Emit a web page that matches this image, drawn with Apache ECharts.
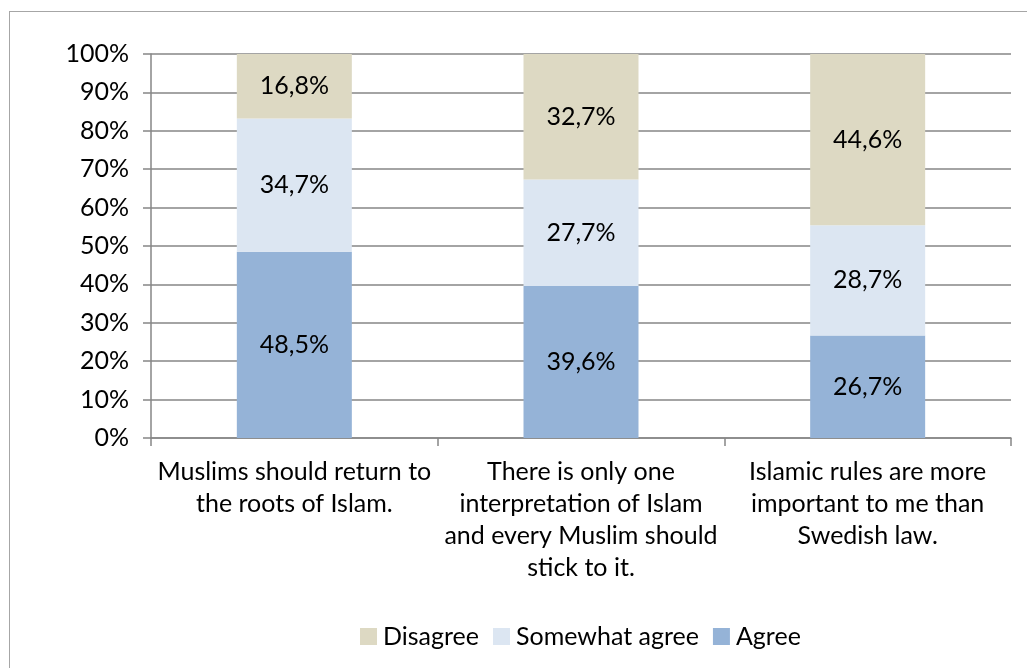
<!DOCTYPE html>
<html><head><meta charset="utf-8">
<script src="https://cdn.jsdelivr.net/npm/echarts@6/dist/echarts.min.js"></script>
<style>
html,body{margin:0;padding:0;background:#fff;overflow:hidden;}
#frame{position:absolute;left:9px;top:11px;width:1100px;height:800px;border:1.5px solid #a6a6a6;box-sizing:border-box;}
#c{position:absolute;left:0;top:0;width:1027px;height:668px;}
</style></head><body>
<div id="frame"></div>
<div id="c"></div>
<script>
const categories = ["Muslims should return to\nthe roots of Islam.", "There is only one\ninterpretation of Islam\nand every Muslim should\nstick to it.", "Islamic rules are more\nimportant to me than\nSwedish law."];
const agree = [48.5, 39.6, 26.7];
const somewhatAgree = [34.7, 27.7, 28.7];
const disagree = [16.8, 32.7, 44.6];
const yTicks = [0,10,20,30,40,50,60,70,80,90,100];

const font = 'Lato, "Open Sans", sans-serif';
const fs = 25;
const fmt = p => p.value.toFixed(1).replace('.', ',') + '%';
function ser(name, data, color){
  return {name, type:'bar', stack:'s', data, barWidth:115,
    itemStyle:{color},
    label:{show:true, position:'inside', formatter:fmt, color:'#000', fontSize:fs, fontFamily:font}};
}
const chart = echarts.init(document.getElementById('c'));
chart.setOption({
  animation:false,
  grid:{left:151, right:16, top:54, bottom:230},
  xAxis:{type:'category', data:categories,
    axisLine:{lineStyle:{color:'#868686', width:1.5}},
    axisTick:{show:true, length:8, alignWithLabel:false, lineStyle:{color:'#868686', width:1.5}},
    axisLabel:{color:'#000', fontSize:fs, fontFamily:font, lineHeight:32, margin:18, interval:0}},
  yAxis:{type:'value', min:0, max:100, interval:10,
    axisLine:{show:true, lineStyle:{color:'#868686', width:1.5}},
    axisTick:{show:true, length:8, lineStyle:{color:'#868686', width:1.5}},
    splitLine:{lineStyle:{color:'#868686', width:1.5}},
    axisLabel:{color:'#000', fontSize:fs, fontFamily:font, margin:22, formatter: v => v + '%'}},
  legend:{top:619, left:355, itemWidth:17, itemHeight:17, itemGap:14,
    icon:'rect', textStyle:{color:'#000', fontSize:fs, fontFamily:font, padding:[0,0,0,1]},
    data:['Disagree','Somewhat agree','Agree']},
  series:[ser('Agree', agree, '#95b3d7'), ser('Somewhat agree', somewhatAgree, '#dce6f2'), ser('Disagree', disagree, '#ddd9c3')]
});
</script>
</body></html>
